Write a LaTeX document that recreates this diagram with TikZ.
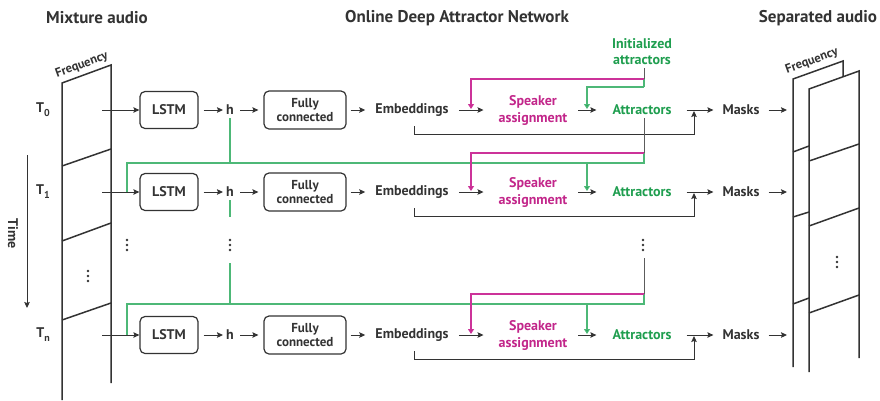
\documentclass[tikz,border=0pt]{standalone}
\usepackage{fontspec}
\setmainfont{PT Sans}
\usetikzlibrary{arrows.meta,calc}

\definecolor{ink}{HTML}{333333}
\definecolor{spkpink}{HTML}{C2268A}
\definecolor{attgreen}{HTML}{1F9E4F}
\definecolor{linkgreen}{HTML}{4DB877}
\definecolor{linkpink}{HTML}{CC3399}

\tikzset{
  lbl/.style={font=\bfseries\fontsize{14}{16}\selectfont, text=ink, inner sep=3pt},
  freqlbl/.style={font=\bfseries\fontsize{12.5}{14}\selectfont, text=ink, inner sep=3.5pt},
  heading/.style={font=\bfseries\fontsize{17}{19}\selectfont, text=ink},
  block/.style={lbl, draw=ink, line width=1.2pt, rounded corners=5pt,
                minimum height=37pt, align=center},
  spec/.style={draw=ink, line width=1.5pt},
  flow/.style={draw=ink, line width=1pt, -{Stealth[length=6pt,width=5.5pt,inset=1pt]}},
  stem/.style={draw=ink!80, line width=1pt},
  glink/.style={draw=linkgreen, line width=1.1pt},
  plink/.style={draw=linkpink, line width=1.1pt},
  gdrop/.style={glink, -{Triangle[length=5pt,width=6pt,fill=attgreen]}},
  pdrop/.style={plink, -{Triangle[length=5pt,width=6pt,fill=spkpink]}},
}

% three stacked dots
\newcommand\vellip[1]{%
  \foreach \dy in {-5,0,5}{\fill[ink] ($(#1)+(0,\dy)$) circle (1.3pt);}}

\begin{document}
\begin{tikzpicture}[x=1pt,y=-1pt]
\useasboundingbox (0,0) rectangle (880,400);

% headings
\node[heading] (hmix) at (97,18) {Mixture audio};
\node[heading] (hnet) at (457,18) {Online Deep Attractor Network};
\node[heading] (hsep) at (818,18) {Separated audio};

% mixture spectrogram
\draw[spec] (62,400) -- (62,83) -- (111,65) -- (111,383);
\draw[spec] (62,166) -- (111,149);
\draw[spec] (62,241) -- (111,223);
\draw[spec] (62,320) -- (111,303);
\node[freqlbl, rotate=20, anchor=south] (fmix) at (85,74) {Frequency};
\coordinate (mixdots) at (88,276);
\vellip{mixdots}

% time axis
\coordinate (ttop) at (27,155);
\coordinate (tbot) at (27,308);
\draw[flow] (ttop) -- (tbot);
\node[lbl, rotate=-90] (time) at (13,234) {Time};

% separated spectrograms
\draw[spec] (793,367) -- (793,79) -- (843,61) -- (843,76);
\draw[spec] (809,372) -- (809,89) -- (859,71) -- (859,358);
\draw[spec] (793,152) -- (809,146);
\draw[spec] (793,217) -- (809,212);
\draw[spec] (793,304) -- (809,298);
\draw[spec] (809,161) -- (859,144);
\draw[spec] (809,226) -- (859,208);
\draw[spec] (809,313) -- (859,295);
\node[freqlbl, rotate=20, anchor=south] (fsep) at (815,70) {Frequency};
\coordinate (sepdots) at (837,262);
\vellip{sepdots}

% one processing row per time step
\foreach \r/\y in {0/110,1/192,n/335}{
  \node[lbl] (t\r) at (43,\y) {T\raisebox{-4pt}{\fontsize{10}{10}\selectfont\r}};
  \coordinate (in\r) at (102,\y);
  \node[block, minimum width=58pt] (lstm\r) at (169,\y) {LSTM};
  \node[lbl] (h\r) at (230,\y) {h};
  \node[block, minimum width=82pt, minimum height=38pt,
        font=\bfseries\fontsize{13}{14.5}\selectfont] (fc\r) at (305,\y) {Fully\\[-1pt]connected};
  \node[lbl] (emb\r) at (412,\y) {Embeddings};
  \node[lbl, text=spkpink, align=center,
        font=\bfseries\fontsize{14}{17}\selectfont] (spk\r) at (533,\y) {Speaker\\assignment};
  \node[lbl, text=attgreen] (att\r) at (642,\y) {Attractors};
  \node[lbl] (mask\r) at (741,\y) {Masks};
  \coordinate (out\r) at (787,\y);
  \coordinate (jn\r) at (694,\y);
  \coordinate (pin\r) at (471,\y);
  \coordinate (gin\r) at (587,\y);

  \draw[flow] (in\r) -- (lstm\r.west);
  \draw[flow, shorten <=5pt] (lstm\r.east) -- (h\r.west);
  \draw[flow, shorten <=3pt, shorten >=5pt] (h\r.east) -- (fc\r.west);
  \draw[flow, shorten <=4pt, shorten >=7pt] (fc\r.east) -- (emb\r.west);
  \draw[flow, shorten <=7pt, shorten >=12pt] (emb\r.east) -- (spk\r.west);
  \draw[flow, shorten <=8pt, shorten >=13pt] (spk\r.east) -- (att\r.west);
  \draw[flow, shorten <=12pt, shorten >=6pt] (att\r.east) -- (mask\r.west);
  \draw[flow, shorten <=6pt] (mask\r.east) -- (out\r);
  % embeddings also go straight to the mask stage
  \draw[flow] ($(emb\r)+(2,16)$) -- ($(emb\r)+(2,24)$) -| ($(jn\r)+(0,1)$);
}

% initial attractors feed the first step
\node[lbl, text=attgreen, align=center,
      font=\bfseries\fontsize{14}{16}\selectfont] (init) at (642,52) {Initialized\\attractors};
\coordinate (pk0) at (644,79);
\coordinate (gk0) at (644,87);
\draw[stem] (init.south -| pk0) -- (pk0);
\draw[glink] (pk0) -- (gk0);
\draw[pdrop] (pk0) -| ($(pin0)+(0,-1)$);
\draw[gdrop] (gk0) -| ($(gin0)+(0,-1)$);

% step 0 -> step 1
\coordinate (pk1) at (644,153);
\coordinate (gk1) at (644,163);
\coordinate (lk1) at (127,163);
\draw[stem] (att0.south -| pk1) -- (pk1);
\draw[glink] (pk1) -- (gk1) -- (lk1) -- (lk1 |- in1);
\draw[glink] (h0.south) -- (h0.south |- gk1);
\draw[pdrop] (pk1) -| ($(pin1)+(0,-1)$);
\draw[gdrop] (gk1) -| ($(gin1)+(0,-1)$);

% elided steps
\coordinate (ldots) at (127,245);
\coordinate (hdots) at (230,245);
\coordinate (adots) at (643,245);
\vellip{ldots}
\vellip{hdots}
\vellip{adots}

% step n-1 -> step n
\coordinate (pkn) at (644,294);
\coordinate (gkn) at (644,304);
\coordinate (lkn) at (127,304);
\draw[stem] (644,258) -- (pkn);
\draw[glink] (pkn) -- (gkn) -- (lkn) -- (lkn |- inn);
\draw[glink] (h1.south) -- (230,217);
\draw[glink] (230,263) -- (230,304);
\draw[pdrop] (pkn) -| ($(pinn)+(0,-1)$);
\draw[gdrop] (gkn) -| ($(ginn)+(0,-1)$);

\end{tikzpicture}
\end{document}
